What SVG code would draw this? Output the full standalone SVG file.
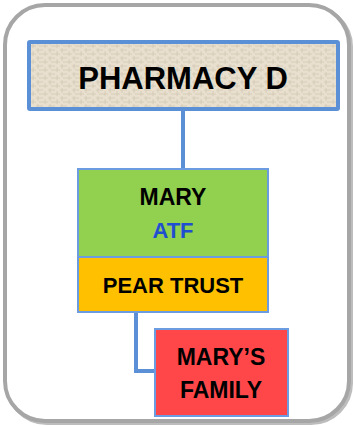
<svg xmlns="http://www.w3.org/2000/svg" width="354" height="426" viewBox="0 0 354 426">
<style>
.lbl{font-family:"Liberation Sans",Arial,sans-serif;font-weight:bold;text-anchor:middle;fill:#000}
.node{stroke:#6b9be0;stroke-width:2}
.conn{fill:none;stroke:#5b8fd6;stroke-width:4}
</style>
<defs>
<pattern id="tex" width="12" height="8" patternUnits="userSpaceOnUse">
<rect width="12" height="8" fill="#e8dfcf"/>
<path d="M0 2H7M3 6H12M2 0V5M9 3V8" stroke="#d2c6b2" stroke-width="0.8"/>
</pattern>
</defs>
<rect x="7" y="7" width="344" height="416" rx="40" fill="none" stroke="#bdbdbd" stroke-width="4"/>
<rect x="5" y="5" width="344" height="416" rx="40" fill="#fff" stroke="#a6a6a6" stroke-width="4"/>
<g id="connectors">
<path class="conn" d="M183 110V170"/>
<path class="conn" d="M136 312V371H156"/>
</g>
<g id="pharmacy">
<rect x="29" y="42" width="309" height="67" fill="url(#tex)" stroke="#5b8fd6" stroke-width="4" rx="1"/>
<text class="lbl" x="183" y="89" font-size="31">PHARMACY D</text>
</g>
<g id="mary">
<rect class="node" x="78" y="169" width="190" height="88" fill="#92d050"/>
<text class="lbl" x="173" y="205" font-size="23">MARY</text>
<text class="lbl" x="173" y="238" font-size="22" style="fill:#1f4fd0">ATF</text>
</g>
<g id="pear">
<rect class="node" x="78" y="257" width="190" height="55" fill="#ffc000"/>
<text class="lbl" x="173" y="293" font-size="22">PEAR TRUST</text>
</g>
<g id="family">
<rect class="node" x="155" y="329" width="133" height="87" fill="#ff474a"/>
<text class="lbl" x="221" y="365" font-size="23">MARY’S</text>
<text class="lbl" x="221" y="398" font-size="23">FAMILY</text>
</g>
</svg>
